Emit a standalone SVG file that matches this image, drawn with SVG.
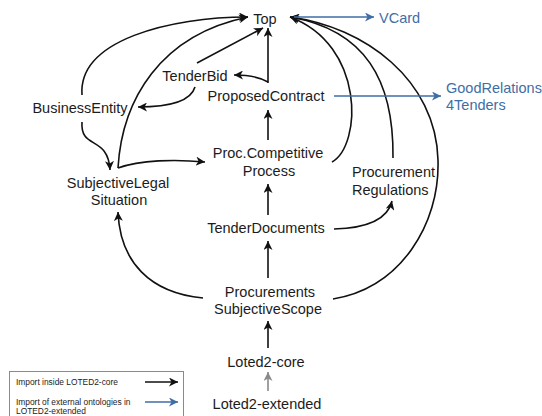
<svg xmlns="http://www.w3.org/2000/svg" width="542" height="416" viewBox="0 0 542 416">
<defs>
<marker id="ab" markerUnits="userSpaceOnUse" markerWidth="10" markerHeight="9" refX="9" refY="4.5" orient="auto">
<path d="M0,0 L9,4.5 L0,9 L2.5,4.5 z" fill="#111"/>
</marker>
<marker id="ag" markerUnits="userSpaceOnUse" markerWidth="10" markerHeight="9" refX="9" refY="4.5" orient="auto">
<path d="M0,0 L9,4.5 L0,9 L2.5,4.5 z" fill="#8a8a8a"/>
</marker>
<marker id="au" markerUnits="userSpaceOnUse" markerWidth="10" markerHeight="9" refX="9" refY="4.5" orient="auto">
<path d="M0,0 L9,4.5 L0,9 L2.5,4.5 z" fill="#3f6ea6"/>
</marker>
</defs>
<style>
text{font-family:"Liberation Sans",Arial,sans-serif;font-size:14.5px;fill:#1c1c1c}
.c{text-anchor:middle}
.ext{fill:#3f6ea6}
.lg{font-size:8.4px}
.e{fill:none;stroke:#111;stroke-width:1.6;marker-end:url(#ab)}
.g{fill:none;stroke:#8a8a8a;stroke-width:1.6;marker-end:url(#ag)}
.u{fill:none;stroke:#3f6ea6;stroke-width:1.6;marker-end:url(#au)}
</style>
<rect width="542" height="416" fill="#fff"/>
<g id="connectors">
<path class="e" d="M82,95 C78,40 170,17 248,17"/>
<path class="e" d="M82,122 C80,150 108,135 110,170"/>
<path class="e" d="M118,168 C122,100 160,35 248,17"/>
<path class="e" d="M118,168 C140,160 175,159 205,162"/>
<path class="e" d="M195,87 C190,104 160,107 138,107"/>
<path class="e" d="M197,63 L263,28"/>
<path class="e" d="M268,83 L268,28"/>
<path class="e" d="M268,82 C258,76 246,75 234,75"/>
<path class="e" d="M268,140 L268,110"/>
<path class="e" d="M332,162 C362,145 365,45 290,17"/>
<path class="e" d="M393,158 C394,80 365,30 290,17"/>
<path class="e" d="M333,299 C400,288 440,225 438,160 C436,80 365,27 290,17"/>
<path class="e" d="M334,229 C370,228 388,218 392,201"/>
<path class="e" d="M203,298 C150,293 120,262 118,212"/>
<path class="e" d="M268,215 L268,184"/>
<path class="e" d="M268,278 L268,241"/>
<path class="e" d="M268,348 L268,321"/>
<path class="g" d="M268,391 L268,372"/>
<path class="u" d="M294,17 L374,17"/>
<path class="u" d="M334,96 L441,96"/>
</g>
<g id="n-top"><text class="c" x="265" y="24">Top</text></g>
<g id="n-tenderbid"><text class="c" x="195" y="81">TenderBid</text></g>
<g id="n-proposedcontract"><text class="c" x="266" y="101">ProposedContract</text></g>
<g id="n-businessentity"><text class="c" x="80" y="113">BusinessEntity</text></g>
<g id="n-subjectivelegal"><text class="c" x="118" y="188">SubjectiveLegal</text><text class="c" x="119" y="205">Situation</text></g>
<g id="n-proccompetitive"><text class="c" x="268" y="158">Proc.Competitive</text><text class="c" x="269" y="176">Process</text></g>
<g id="n-procregulations"><text x="352" y="177">Procurement</text><text x="352" y="195">Regulations</text></g>
<g id="n-tenderdocuments"><text class="c" x="266" y="233">TenderDocuments</text></g>
<g id="n-procscope"><text class="c" x="270" y="297">Procurements</text><text class="c" x="268" y="314">SubjectiveScope</text></g>
<g id="n-loted2core"><text class="c" x="266" y="367">Loted2-core</text></g>
<g id="n-loted2ext"><text class="c" x="267" y="409">Loted2-extended</text></g>
<g id="n-vcard"><text class="ext" x="379" y="23">VCard</text></g>
<g id="n-goodrelations"><text class="ext" x="446" y="93">GoodRelations</text><text class="ext" x="446" y="110">4Tenders</text></g>
<g id="legend">
<rect x="9.5" y="371.5" width="174" height="50" fill="#fff" stroke="#8a8a8a" stroke-width="1"/>
<text class="lg" x="16" y="385">Import inside LOTED2-core</text>
<text class="lg" x="16" y="405">Import of external ontologies in</text>
<text class="lg" x="16" y="414">LOTED2-extended</text>
<path class="e" d="M145,382 L178,382"/>
<path class="u" d="M145,402 L178,402"/>
</g>
</svg>
